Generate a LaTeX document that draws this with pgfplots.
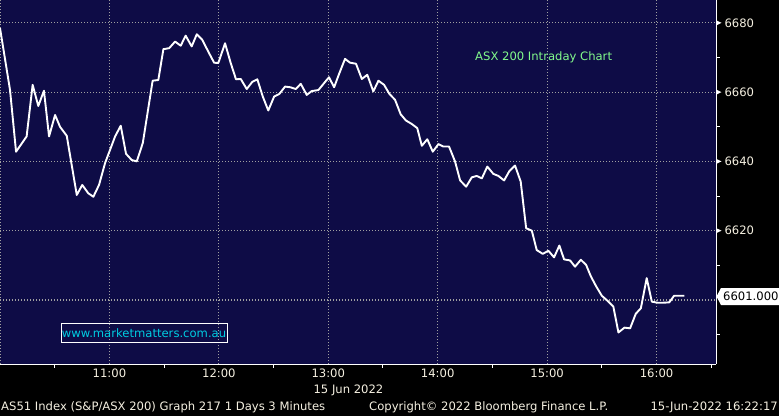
\documentclass[border=0pt]{standalone}
\usepackage{fontspec}
\setmainfont{DejaVu Sans}
\usepackage{pgfplots}
\pgfplotsset{compat=1.18}
\usetikzlibrary{calc}
\definecolor{bgnavy}{RGB}{14,12,70}
\definecolor{gridgray}{RGB}{160,160,160}
\definecolor{lbl}{RGB}{245,240,225}
\definecolor{titlegreen}{RGB}{130,250,140}
\definecolor{wmcyan}{RGB}{0,205,225}
\newcommand\bbfont{\fontsize{11.6}{13}\selectfont}

\begin{document}
\begin{tikzpicture}[x=1pt,y=1pt]
\path[use as bounding box, fill=black] (0,0) rectangle (779,416);
\begin{axis}[
  at={(0pt,52pt)}, anchor=south west,
  width=716pt, height=364pt, scale only axis,
  xmin=0, xmax=392.6, ymin=6581.5, ymax=6686.6,
  axis background/.style={fill=bgnavy},
  axis x line*=bottom, axis y line*=right,
  axis line style={white, line width=1pt, -},
  xtick={0,60,120,180,240,300,360},
  xticklabels={,11:00,12:00,13:00,14:00,15:00,16:00},
  minor xtick={30,90,150,210,270,330,390},
  ytick={6600,6620,6640,6660,6680},
  yticklabels={,6620,6640,6660,6680},
  minor ytick={6590,6610,6630,6650,6670},
  grid=major,
  major grid style={gridgray, line width=1.2pt, dash pattern=on 1.4pt off 1.6pt},
  tick style={white, line width=1pt},
  major tick length=0pt, minor tick length=3.5pt, tick align=outside,
  ticklabel style={font=\bbfont, text=lbl},
  xticklabel style={yshift=-1pt},
  yticklabel style={xshift=5pt},
  clip=false,
]
\addplot[white, line width=1.9pt, line join=round] coordinates {
(0,6678.5) (5.5,6660.6) (8.8,6642.8) (14.6,6647.2) (17.9,6662.1) (21,6656)
(24.1,6660.4) (26.9,6647.2) (30.2,6653.4) (32.9,6650) (36.6,6647.4) (42.1,6630.3)
(45.1,6633.2) (48.4,6630.8) (51.2,6629.8) (54.3,6633.2) (57.6,6639.5) (63.1,6647.2)
(66.2,6650.3) (69.1,6642.2) (72.2,6640.4) (75,6640) (78.3,6645.3) (83.7,6663.3)
(86.8,6663.5) (89.6,6672.4) (92.8,6672.7) (96,6674.6) (99.1,6673.4) (101.8,6676.3)
(105.1,6673.2) (107.9,6676.7) (110.9,6675.1) (114.2,6671.7) (117.4,6668.5) (119.7,6668.4)
(123.4,6674.1) (126.5,6668.4) (129.4,6663.7) (132,6663.8) (135.3,6660.9) (138.4,6663)
(141.1,6663.7) (144.1,6658.7) (147.1,6654.7) (150.3,6658.7) (153.2,6659.5) (156.3,6661.6)
(159.2,6661.4) (162.2,6660.9) (164.9,6662.4) (168.2,6659.2) (170.9,6660.3) (174.6,6660.6)
(177.7,6662.6) (180.4,6664.3) (183.2,6661.4) (186.1,6665.5) (189.2,6669.6) (191.9,6668.5)
(195.2,6668.2) (198.4,6663.8) (201.4,6665) (204.7,6660.2) (207.5,6663.3) (210.6,6662.1)
(213.5,6659.5) (216.6,6657.8) (219.7,6653.6) (222.6,6651.8) (225.8,6650.8) (228.8,6649.6)
(231.3,6644.5) (234.3,6646.4) (237.3,6642.8) (240.4,6645) (243.1,6644.3) (246.2,6644.3)
(249.5,6640) (252.3,6634.5) (255.6,6632.7) (258.7,6635.4) (261.4,6635.8) (264.2,6635.1)
(267.2,6638.5) (270.5,6636.4) (273.3,6635.8) (276.4,6634.5) (279.3,6637.2) (282.4,6638.8)
(285.5,6634.2) (288.5,6620.7) (291.6,6620) (294.3,6614.4) (297.6,6613.3) (300.7,6614.2)
(303.8,6612.3) (306.7,6615.7) (309.3,6611.7) (312.6,6611.4) (315.3,6609.6) (318.5,6611.6)
(321.4,6610.1) (323.9,6606.9) (326.8,6604) (330,6601.2) (333,6599.8) (336.3,6598.1)
(339.1,6590.6) (342.4,6592) (345.5,6591.8) (348.6,6596) (351.4,6597.6) (354.6,6606.3)
(357.4,6599.5) (360.5,6599.2) (363.8,6599.2) (367,6599.3) (369.6,6601.2) (372.5,6601.2)
(375.3,6601.2)
};
\coordinate (t6620) at (axis cs:392.6,6620);
\coordinate (t6640) at (axis cs:392.6,6640);
\coordinate (t6660) at (axis cs:392.6,6660);
\coordinate (t6680) at (axis cs:392.6,6680);
\end{axis}
% tick triangles on the value axis
\foreach \c in {t6620,t6640,t6660,t6680}
  \fill[white] ($(\c)+(0pt,2.6pt)$) -- ++(5.5pt,-2.6pt) -- ++(-5.5pt,-2.6pt) -- cycle;
% last value marker
\fill[white] (716.5,119.5) -- (721,128) -- (780,128) -- (780,111) -- (721,111) -- cycle;
\node[anchor=west, inner sep=0pt, text=black, font=\bbfont] at (723,119.5) {6601.000};
% title
\node[anchor=west, inner sep=0pt, text=titlegreen, font=\bbfont] at (475,359) {ASX 200 Intraday Chart};
% watermark
\draw[white, line width=0.8pt] (61,73.5) rectangle (227,92.5);
\node[inner sep=0pt, text=wmcyan, font=\bbfont] at (144,83) {www.marketmatters.com.au};
% footer
\node[inner sep=0pt, text=lbl, font=\bbfont] at (348.5,26) {15 Jun 2022};
\node[anchor=west, inner sep=0pt, text=lbl, font=\bbfont] at (1,9) {AS51 Index (S\&P/ASX 200) Graph 217 1 Days 3 Minutes};
\node[anchor=west, inner sep=0pt, text=lbl, font=\bbfont] at (369,9) {Copyright© 2022 Bloomberg Finance L.P.};
\node[anchor=east, inner sep=0pt, text=lbl, font=\bbfont] at (778,9) {15-Jun-2022 16:22:17};
\end{tikzpicture}
\end{document}
